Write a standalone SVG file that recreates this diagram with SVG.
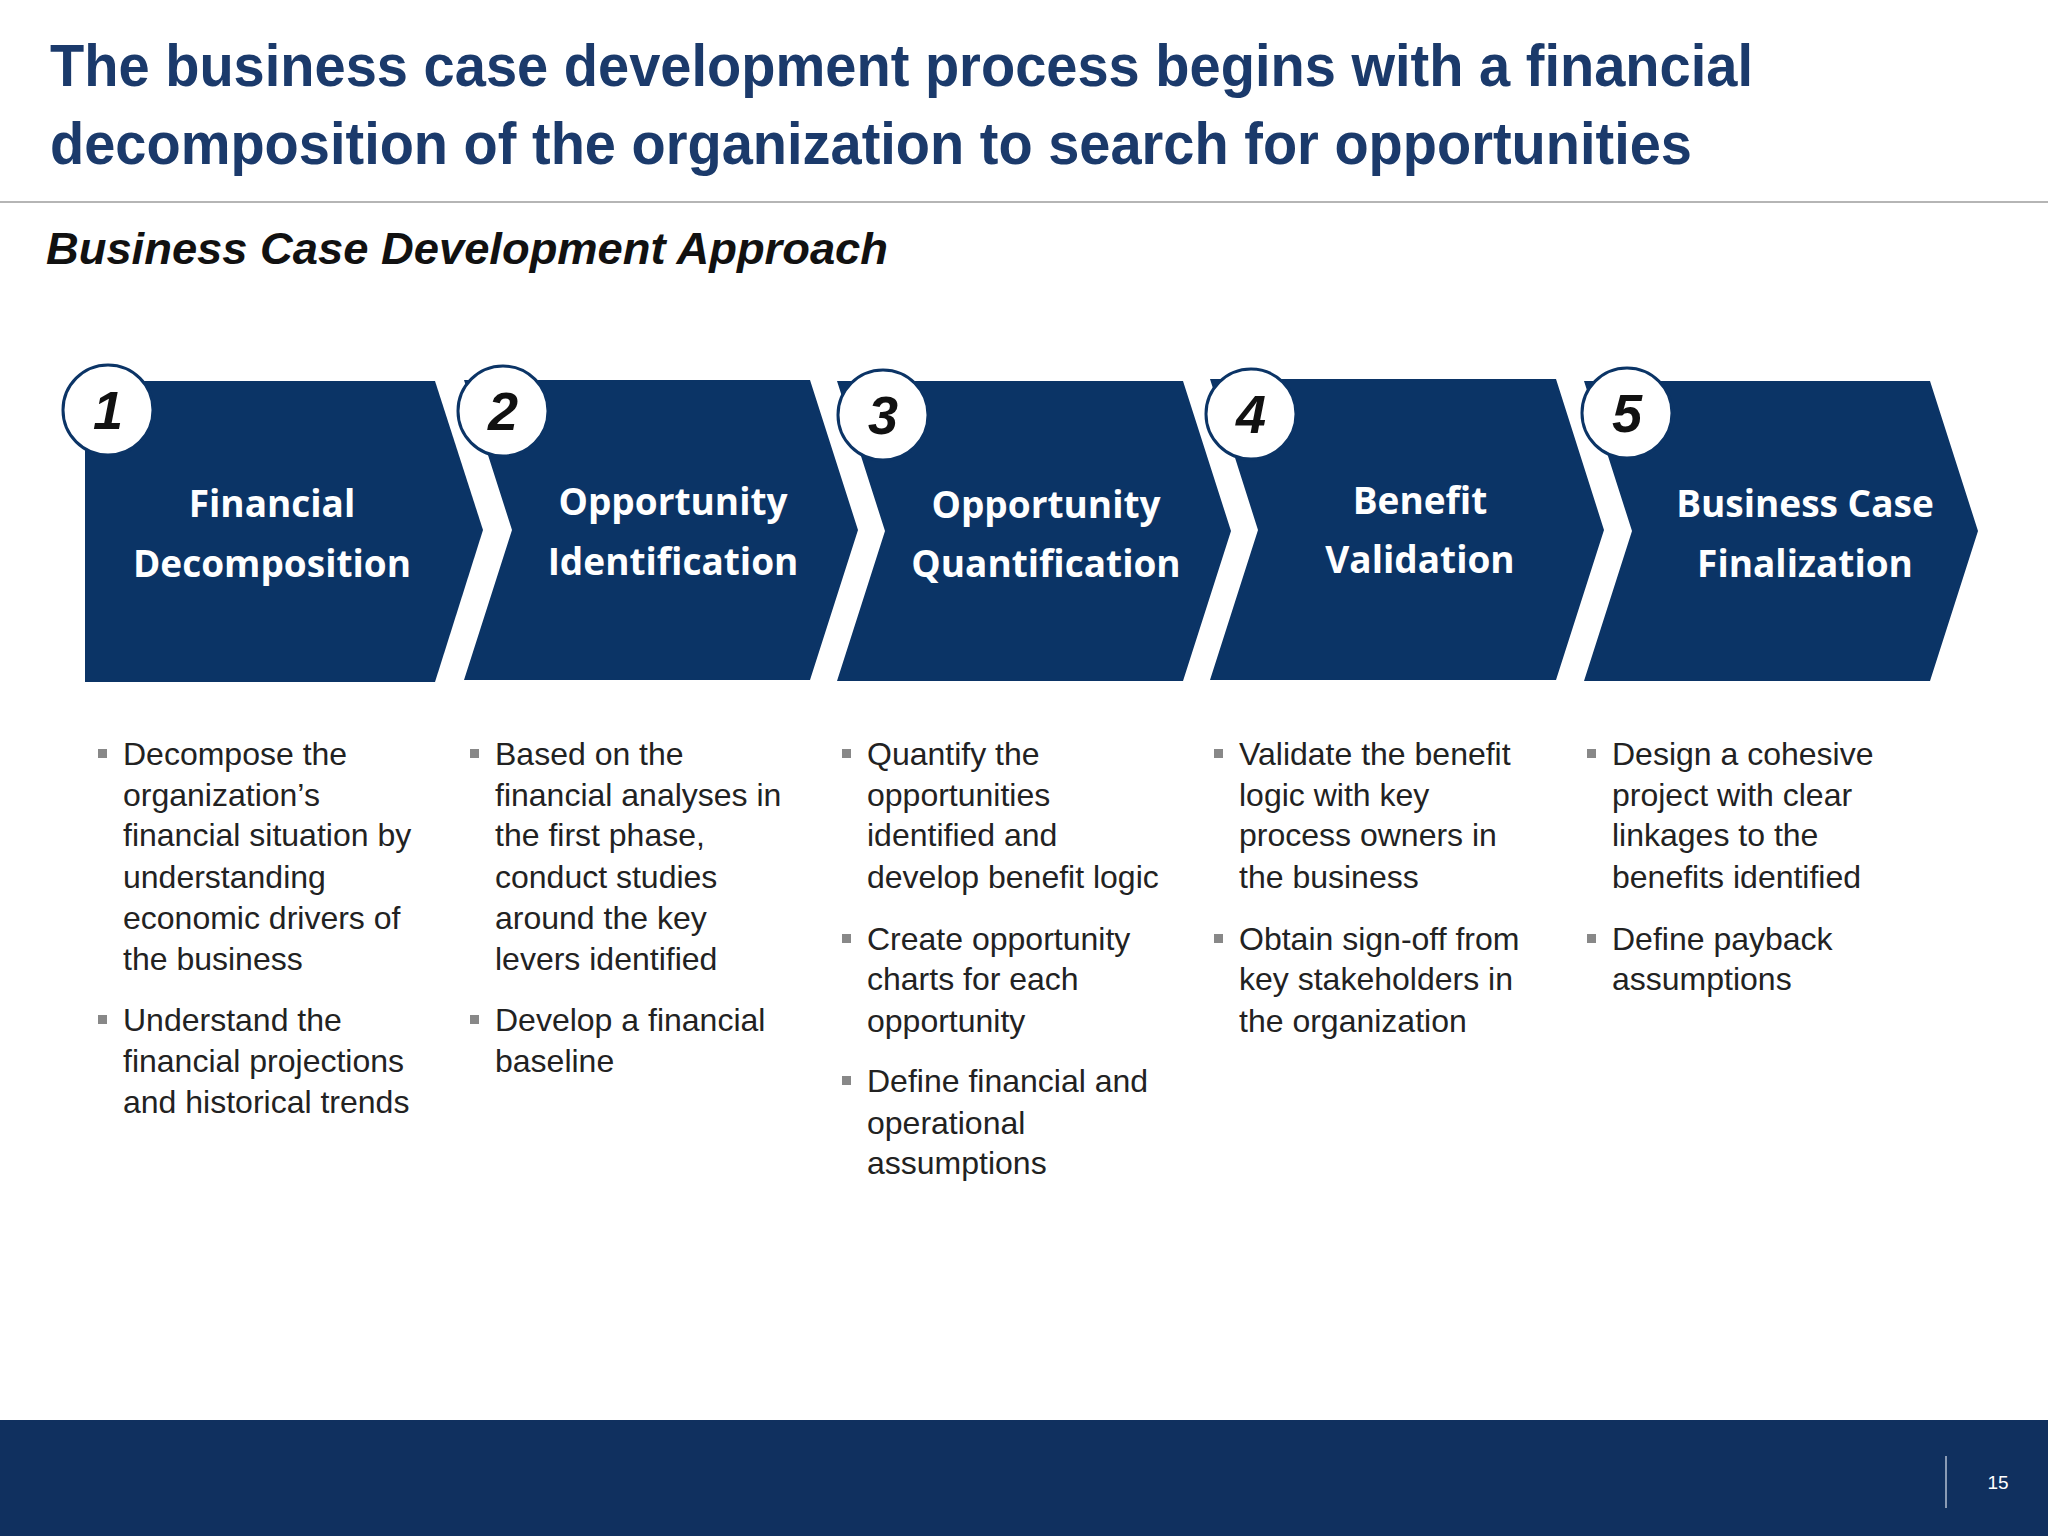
<svg xmlns="http://www.w3.org/2000/svg" width="2048" height="1536" viewBox="0 0 2048 1536">
<style>
.title{font-family:"Liberation Sans",Arial,sans-serif;font-weight:bold;font-size:60px;fill:#1b3a6b}
.sub{font-family:"Liberation Sans",Arial,sans-serif;font-weight:bold;font-style:italic;font-size:44px;fill:#111}
.chev{fill:#0b3466}
.lbl{font-family:"Open Sans","DejaVu Sans",sans-serif;font-weight:bold;font-size:37px;fill:#fff;text-anchor:middle}
.num{font-family:"Liberation Sans",Arial,sans-serif;font-weight:bold;font-style:italic;font-size:54px;fill:#111;text-anchor:middle}
.circ{fill:#fff;stroke:#0b3466;stroke-width:3}
.b{font-family:"Liberation Sans",Arial,sans-serif;font-size:32px;fill:#222}
.sq{fill:#888}
</style>
<rect width="2048" height="1536" fill="#fff"/>
<text class="title" x="50" y="86" textLength="1703" lengthAdjust="spacingAndGlyphs">The business case development process begins with a financial</text>
<text class="title" x="50" y="164" textLength="1642" lengthAdjust="spacingAndGlyphs">decomposition of the organization to search for opportunities</text>
<line x1="0" y1="202" x2="2048" y2="202" stroke="#b5b5b5" stroke-width="2"/>
<text class="sub" x="46" y="264" textLength="842" lengthAdjust="spacingAndGlyphs">Business Case Development Approach</text>

<g id="step1"><polygon class="chev" points="85,381 435,381 483,530 435,682 85,682"/>
<text class="lbl" x="272" y="517">Financial</text><text class="lbl" x="272" y="577">Decomposition</text>
<circle class="circ" cx="108" cy="410" r="45"/><text class="num" x="108" y="429">1</text></g>
<g id="step2"><polygon class="chev" points="464,380 810,380 858,530 810,680 464,680 512,530"/>
<text class="lbl" x="673" y="515">Opportunity</text><text class="lbl" x="673" y="575">Identification</text>
<circle class="circ" cx="503" cy="411" r="45"/><text class="num" x="503" y="430">2</text></g>
<g id="step3"><polygon class="chev" points="837,381 1183,381 1231,531 1183,681 837,681 885,531"/>
<text class="lbl" x="1046" y="518">Opportunity</text><text class="lbl" x="1046" y="577">Quantification</text>
<circle class="circ" cx="883" cy="415" r="45"/><text class="num" x="883" y="434">3</text></g>
<g id="step4"><polygon class="chev" points="1210,379 1556,379 1604,530 1556,680 1210,680 1258,530"/>
<text class="lbl" x="1420" y="514">Benefit</text><text class="lbl" x="1420" y="573">Validation</text>
<circle class="circ" cx="1251" cy="414" r="45"/><text class="num" x="1251" y="433">4</text></g>
<g id="step5"><polygon class="chev" points="1584,381 1930,381 1978,531 1930,681 1584,681 1632,531"/>
<text class="lbl" x="1805" y="517">Business Case</text><text class="lbl" x="1805" y="577">Finalization</text>
<circle class="circ" cx="1627" cy="413" r="45"/><text class="num" x="1627" y="432">5</text></g>

<g id="col1">
<rect class="sq" x="98" y="749" width="9" height="9"/>
<text class="b" x="123" y="765">Decompose the</text><text class="b" x="123" y="806">organization’s</text><text class="b" x="123" y="846">financial situation by</text><text class="b" x="123" y="888">understanding</text><text class="b" x="123" y="929">economic drivers of</text><text class="b" x="123" y="970">the business</text>
<rect class="sq" x="98" y="1015" width="9" height="9"/>
<text class="b" x="123" y="1031">Understand the</text><text class="b" x="123" y="1072">financial projections</text><text class="b" x="123" y="1113">and historical trends</text>
</g>
<g id="col2">
<rect class="sq" x="470" y="749" width="9" height="9"/>
<text class="b" x="495" y="765">Based on the</text><text class="b" x="495" y="806">financial analyses in</text><text class="b" x="495" y="846">the first phase,</text><text class="b" x="495" y="888">conduct studies</text><text class="b" x="495" y="929">around the key</text><text class="b" x="495" y="970">levers identified</text>
<rect class="sq" x="470" y="1015" width="9" height="9"/>
<text class="b" x="495" y="1031">Develop a financial</text><text class="b" x="495" y="1072">baseline</text>
</g>
<g id="col3">
<rect class="sq" x="842" y="749" width="9" height="9"/>
<text class="b" x="867" y="765">Quantify the</text><text class="b" x="867" y="806">opportunities</text><text class="b" x="867" y="846">identified and</text><text class="b" x="867" y="888">develop benefit logic</text>
<rect class="sq" x="842" y="934" width="9" height="9"/>
<text class="b" x="867" y="950">Create opportunity</text><text class="b" x="867" y="990">charts for each</text><text class="b" x="867" y="1032">opportunity</text>
<rect class="sq" x="842" y="1076" width="9" height="9"/>
<text class="b" x="867" y="1092">Define financial and</text><text class="b" x="867" y="1134">operational</text><text class="b" x="867" y="1174">assumptions</text>
</g>
<g id="col4">
<rect class="sq" x="1214" y="749" width="9" height="9"/>
<text class="b" x="1239" y="765">Validate the benefit</text><text class="b" x="1239" y="806">logic with key</text><text class="b" x="1239" y="846">process owners in</text><text class="b" x="1239" y="888">the business</text>
<rect class="sq" x="1214" y="934" width="9" height="9"/>
<text class="b" x="1239" y="950">Obtain sign-off from</text><text class="b" x="1239" y="990">key stakeholders in</text><text class="b" x="1239" y="1032">the organization</text>
</g>
<g id="col5">
<rect class="sq" x="1587" y="749" width="9" height="9"/>
<text class="b" x="1612" y="765">Design a cohesive</text><text class="b" x="1612" y="806">project with clear</text><text class="b" x="1612" y="846">linkages to the</text><text class="b" x="1612" y="888">benefits identified</text>
<rect class="sq" x="1587" y="934" width="9" height="9"/>
<text class="b" x="1612" y="950">Define payback</text><text class="b" x="1612" y="990">assumptions</text>
</g>

<rect x="0" y="1420" width="2048" height="116" fill="#10305f"/>
<line x1="1946" y1="1456" x2="1946" y2="1508" stroke="#8a9bb5" stroke-width="2"/>
<text x="1998" y="1489" font-family="Liberation Sans,Arial,sans-serif" font-size="19" fill="#fff" text-anchor="middle">15</text>
<g id="connectors"/>
</svg>
